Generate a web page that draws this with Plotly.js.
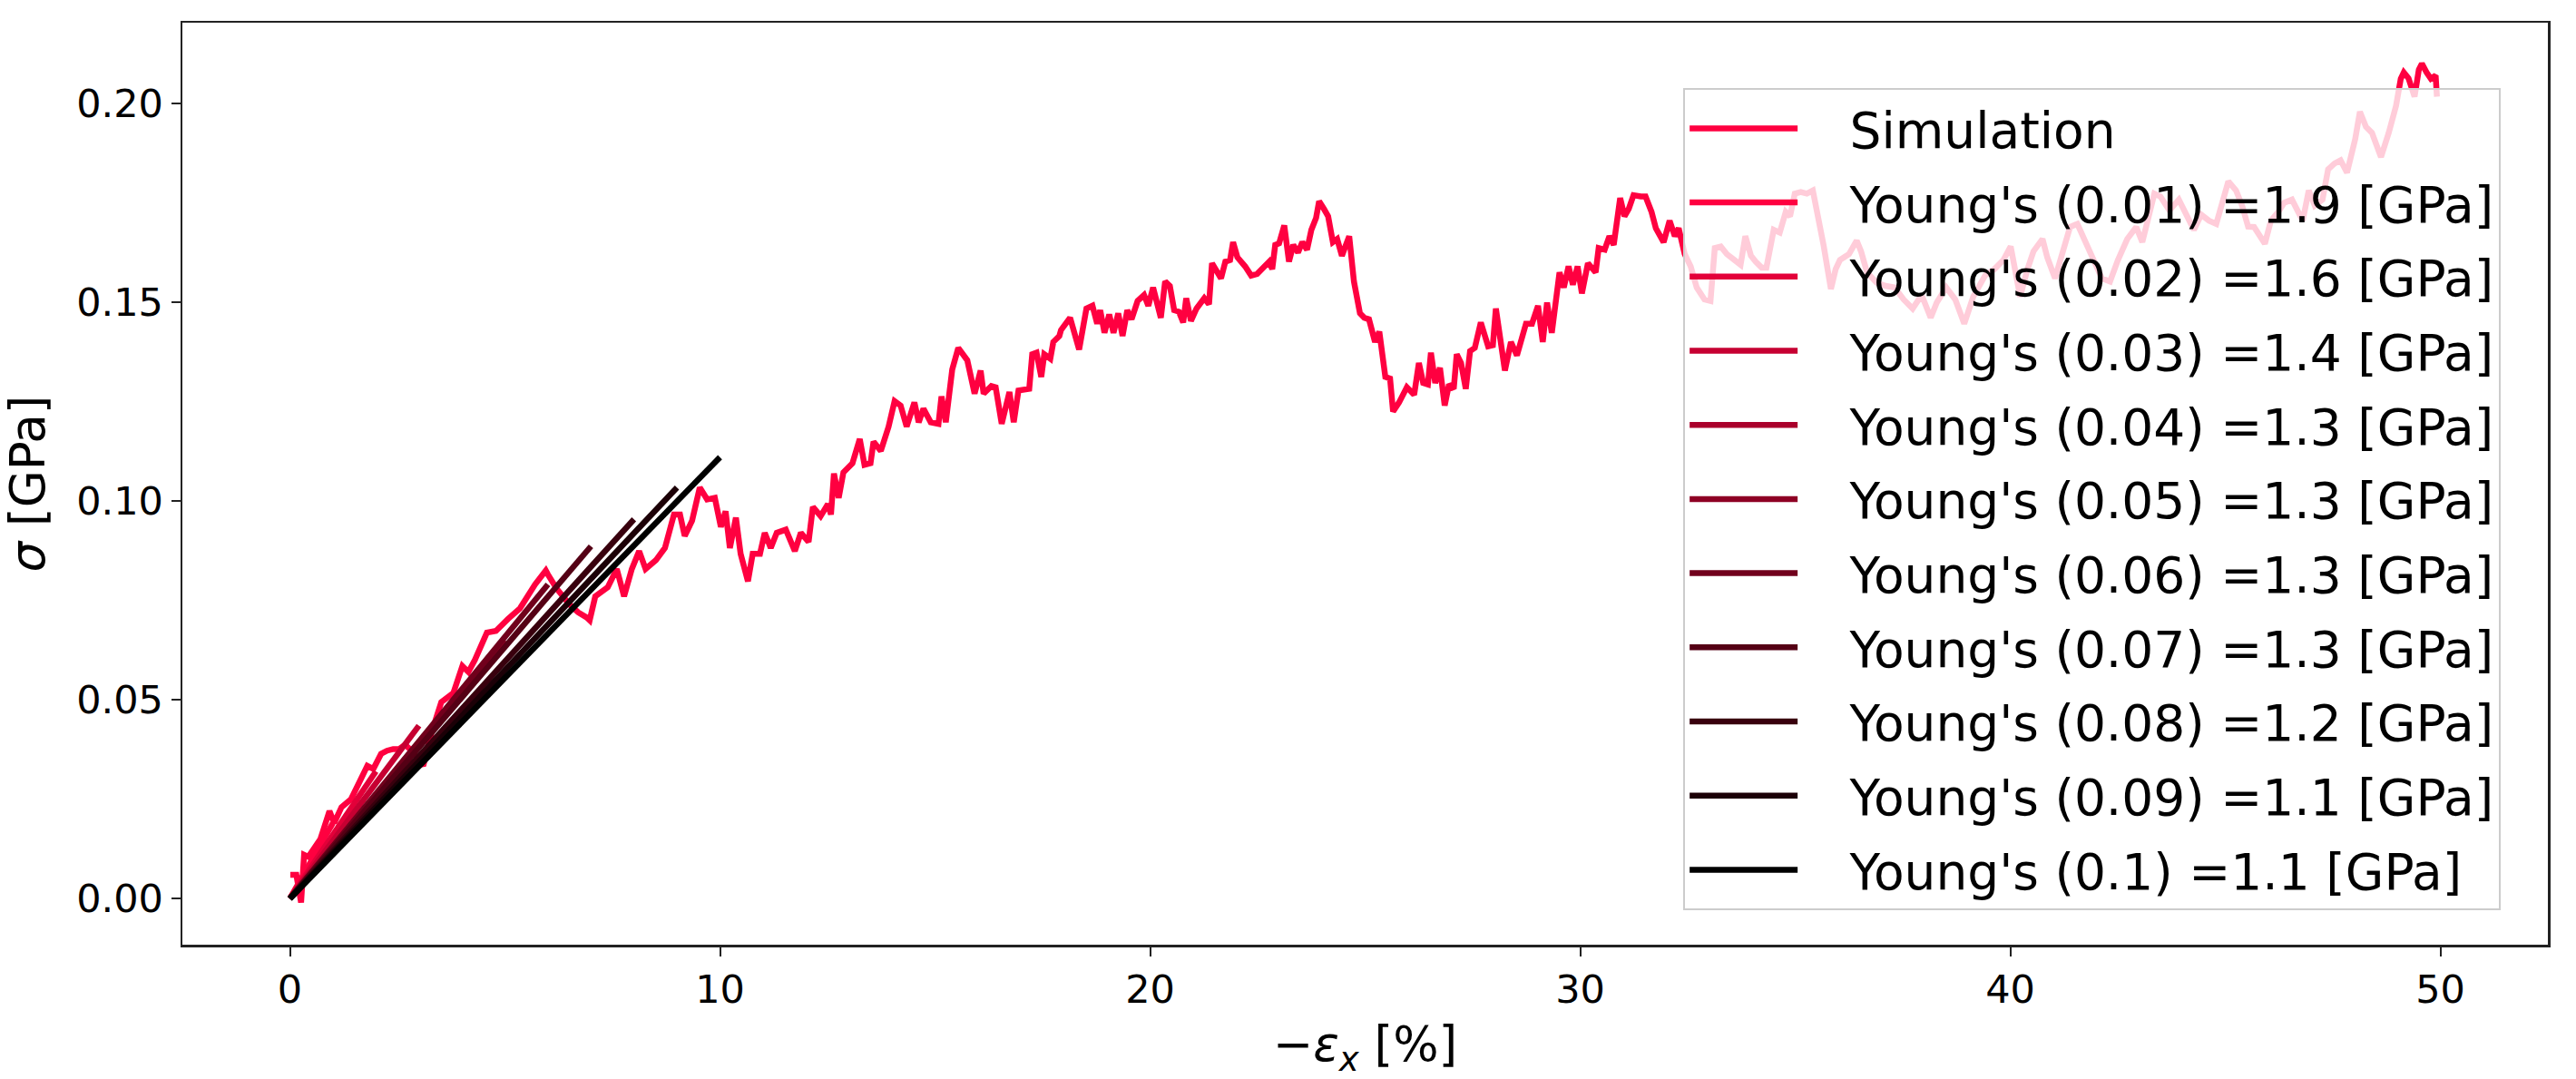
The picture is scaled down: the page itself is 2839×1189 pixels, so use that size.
<!DOCTYPE html>
<html>
<head>
<meta charset="utf-8">
<script src="https://cdn.plot.ly/plotly-3.0.1.min.js"></script>
<style>
  html, body { margin: 0; padding: 0; background: #ffffff; }
  #chart { width: 2839px; height: 1189px; }
</style>
</head>
<body>
<div id="chart"></div>
<script>
// Simulation curve: strain (-eps_x, %) and stress (sigma, GPa)
const simStrain = [
  0.01,0.15,0.26,0.33,0.43,0.71,0.92,1.03,1.20,1.42,1.63,1.80,1.94,2.12,2.26,2.40,2.54,2.68,2.85,3.00,3.10,3.30,3.52,
  3.80,4.01,4.15,4.30,4.58,4.79,5.07,5.35,5.70,5.95,6.00,6.20,6.50,6.70,6.90,6.97,7.10,7.39,7.60,7.77,7.95,8.12,8.27,8.51,8.72,8.93,
  9.07,9.18,9.35,9.53,9.70,9.88,10.02,10.13,10.23,10.37,10.48,10.65,10.76,10.93,11.04,11.18,11.32,11.53,11.74,11.88,12.06,12.16,
  12.34,12.51,12.58,12.65,12.76,12.87,13.08,13.25,13.36,13.50,13.57,13.74,13.92,14.06,14.20,14.34,14.52,14.62,14.73,14.90,15.08,
  15.15,15.25,15.40,15.54,15.75,15.92,16.06,16.13,16.31,16.41,16.55,16.73,16.83,16.94,17.19,17.26,17.36,17.47,17.54,17.68,17.75,
  17.89,17.93,18.14,18.35,18.52,18.66,18.77,18.84,18.94,19.05,19.15,19.26,19.36,19.47,19.57,19.71,19.86,19.96,20.07,20.25,20.35,
  20.46,20.56,20.67,20.77,20.84,20.95,21.08,21.26,21.37,21.44,21.65,21.75,21.86,21.93,22.03,22.21,22.35,22.49,22.70,22.77,22.84,
  22.91,23.00,23.12,23.23,23.33,23.44,23.54,23.65,23.75,23.86,23.93,24.04,24.14,24.25,24.35,24.46,24.56,24.63,24.74,24.88,24.98,
  25.09,25.23,25.33,25.40,25.47,25.58,25.65,25.79,25.97,26.14,26.25,26.35,26.46,26.53,26.63,26.74,26.85,26.95,27.06,27.13,27.23,
  27.34,27.44,27.55,27.69,27.86,27.97,28.04,28.14,28.25,28.39,28.53,28.74,28.88,29.02,29.13,29.23,29.34,29.52,29.62,29.73,29.83,
  29.94,30.04,30.18,30.36,30.43,30.57,30.68,30.78,30.93,31.03,31.13,31.24,31.41,31.52,31.66,31.76,31.94,32.08,32.20,32.29,32.43,
  32.57,32.71,32.89,33.03,33.13,33.27,33.41,33.59,33.73,33.84,33.97,34.08,34.22,34.33,34.50,34.64,34.78,34.88,34.99,35.13,35.27,
  35.41,35.52,35.66,35.83,35.94,36.04,36.25,36.43,36.53,36.67,36.89,37.10,37.31,37.52,37.73,37.94,38.15,38.29,38.51,38.72,38.93,
  39.14,39.42,39.63,39.84,40.01,40.23,40.40,40.54,40.75,40.86,41.04,41.21,41.39,41.56,41.79,42.00,42.13,42.32,42.50,42.72,42.93,
  43.07,43.21,43.35,43.49,43.70,43.92,44.09,44.27,44.44,44.62,44.79,44.97,45.07,45.25,45.39,45.53,45.67,45.92,46.06,46.23,46.37,
  46.55,46.65,46.80,46.94,47.08,47.26,47.39,47.54,47.68,47.83,47.93,48.02,48.13,48.27,48.41,48.62,48.80,48.97,49.08,49.15,49.26,
  49.40,49.50,49.57,49.68,49.78,49.89,49.92
];
const simStress = [
  0.0060,0.0060,-0.0010,0.0110,0.0105,0.0150,0.0220,0.0190,0.0230,0.0250,0.0296,0.0334,0.0326,0.0364,0.0372,0.0376,0.0376,0.0387,0.0370,0.0345,0.0334,0.0420,0.0494,
  0.0517,0.0585,0.0570,0.0600,0.0669,0.0673,0.0703,0.0730,0.0790,0.0825,0.0815,0.0780,0.0740,0.0720,0.0707,0.0700,0.0760,0.0783,0.0829,0.0760,0.0829,0.0874,0.0829,0.0851,0.0882,0.0966,
  0.0966,0.0912,0.0950,0.1034,0.1004,0.1008,0.0935,0.0974,0.0882,0.0958,0.0867,0.0798,0.0867,0.0867,0.0920,0.0882,0.0920,0.0928,0.0874,0.0920,0.0897,0.0985,
  0.0962,0.0992,0.0966,0.1069,0.1008,0.1072,0.1095,0.1156,0.1091,0.1095,0.1149,0.1126,0.1187,0.1251,0.1240,0.1187,0.1248,0.1198,0.1232,0.1198,0.1194,
  0.1263,0.1198,0.1331,0.1385,0.1354,0.1270,0.1328,0.1270,0.1289,0.1286,0.1194,0.1274,0.1198,0.1278,0.1282,0.1369,0.1373,0.1312,0.1369,0.1358,0.1400,
  0.1415,0.1430,0.1461,0.1381,0.1484,0.1491,0.1446,0.1480,0.1423,0.1469,0.1423,0.1472,0.1415,0.1480,0.1457,0.1503,0.1518,0.1491,0.1537,0.1461,0.1552,
  0.1541,0.1480,0.1476,0.1449,0.1510,0.1453,0.1484,0.1510,0.1495,0.1598,0.1560,0.1602,0.1606,0.1651,0.1613,0.1590,0.1567,0.1571,0.1594,0.1602,0.1583,
  0.1644,0.1648,0.1693,0.1602,0.1644,0.1625,0.1651,0.1632,0.1682,0.1712,0.1754,0.1735,0.1716,0.1651,0.1659,0.1617,0.1644,0.1666,0.1552,0.1472,0.1461,
  0.1457,0.1400,0.1426,0.1369,0.1312,0.1308,0.1225,0.1248,0.1286,0.1267,0.1347,0.1297,0.1293,0.1373,0.1297,0.1335,0.1240,0.1293,0.1282,0.1369,0.1347,
  0.1282,0.1377,0.1385,0.1449,0.1389,0.1392,0.1484,0.1408,0.1328,0.1400,0.1366,0.1446,0.1446,0.1491,0.1400,0.1499,0.1423,0.1575,0.1537,0.1590,0.1544,
  0.1590,0.1522,0.1598,0.1575,0.1636,0.1632,0.1666,0.1644,0.1762,0.1716,0.1735,0.1769,0.1766,0.1766,0.1727,0.1686,0.1651,0.1705,0.1666,0.1686,0.1621,
  0.1590,0.1537,0.1507,0.1503,0.1636,0.1640,0.1621,0.1606,0.1594,0.1666,0.1617,0.1602,0.1587,0.1587,0.1682,0.1675,0.1727,0.1716,0.1773,0.1777,0.1773,
  0.1781,0.1727,0.1643,0.1533,0.1583,0.1606,0.1621,0.1655,0.1628,0.1575,0.1549,0.1541,0.1537,0.1507,0.1484,0.1518,0.1461,0.1499,0.1537,0.1507,0.1446,
  0.1514,0.1568,0.1583,0.1606,0.1640,0.1514,0.1583,0.1628,0.1659,0.1613,0.1560,0.1628,0.1689,0.1697,0.1643,0.1598,0.1560,0.1552,0.1605,0.1659,0.1689,
  0.1651,0.1720,0.1773,0.1766,0.1731,0.1758,0.1720,0.1682,0.1720,0.1705,0.1697,0.1766,0.1804,0.1781,0.1743,0.1690,0.1689,0.1647,0.1705,0.1727,0.1750,
  0.1758,0.1735,0.1705,0.1781,0.1743,0.1758,0.1834,0.1849,0.1857,0.1826,0.1872,0.1910,0.1979,0.1941,0.1926,0.1865,0.1926,0.1994,0.2062,0.2078,0.2063,
  0.2017,0.2085,0.2100,0.2078,0.2062,0.2070,0.2017
];

// Young's modulus fits: fit range label, modulus label, end point of each fitted line (start at origin)
const fitRanges = ["0.01","0.02","0.03","0.04","0.05","0.06","0.07","0.08","0.09","0.1"];
const youngModuli = ["1.9","1.6","1.4","1.3","1.3","1.3","1.3","1.2","1.1","1.1"];
const fitEndStrain = [1, 2, 3, 4, 5, 6, 7, 8, 9, 10];
const fitEndStress = [0.0190, 0.0320, 0.0435, 0.0520, 0.0650, 0.0790, 0.0886, 0.0954, 0.1034, 0.1110];
const fitColors = ["#ff0040","#e30039","#c60032","#aa002b","#8e0024","#71001c","#550015","#39000e","#1c0007","#000000"];

const simColor = "#ff0040";
const FONT = "DejaVu Sans, Liberation Sans, sans-serif";
const LEG_PAD = "\u00a0\u00a0\u00a0";   // gap between legend line and label text

const traces = [{
  type: "scatter", mode: "lines",
  x: simStrain, y: simStress,
  name: LEG_PAD + "Simulation",
  legendgroup: "g0",
  line: { color: simColor, width: 6.5 },
  hoverinfo: "skip"
}];
for (let i = 0; i < fitRanges.length; i++) {
  traces.push({
    type: "scatter", mode: "lines",
    x: [0, fitEndStrain[i]], y: [0, fitEndStress[i]],
    name: LEG_PAD + "Young's (" + fitRanges[i] + ") =" + youngModuli[i] + " [GPa]",
    legendgroup: "g" + (i + 1),
    line: { color: fitColors[i], width: 6.5 },
    hoverinfo: "skip"
  });
}

const layout = {
  width: 2839, height: 1189,
  paper_bgcolor: "#ffffff", plot_bgcolor: "#ffffff",
  margin: { l: 201, r: 31, t: 25, b: 148, pad: 0 },
  font: { family: FONT, color: "#000000" },
  showlegend: true,
  legend: {
    x: 0.6345, y: 0.929, xanchor: "left", yanchor: "top",
    bgcolor: "rgba(255,255,255,0.8)",
    bordercolor: "#cccccc", borderwidth: 2,
    font: { family: FONT, size: 55, color: "#000000" },
    traceorder: "grouped",
    tracegroupgap: 7.2,
    itemwidth: 119,
    entrywidthmode: "pixels",
    entrywidth: 900
  },
  xaxis: {
    range: [-2.5, 52.5],
    tick0: 0, dtick: 10,
    ticks: "outside", ticklen: 10, tickwidth: 2, tickcolor: "#222222",
    showline: true, linecolor: "#222222", linewidth: 2.5, mirror: true,
    showgrid: false, zeroline: false,
    tickfont: { family: FONT, size: 43, color: "#000000" },
    title: { text: "\u2212<i>\u03b5</i><sub><i>x</i></sub> [%]", font: { family: FONT, size: 53, color: "#000000" }, standoff: 20 },
    automargin: false
  },
  yaxis: {
    range: [-0.0116, 0.2203],
    tick0: 0, dtick: 0.05, tickformat: ".2f",
    ticks: "outside", ticklen: 10, tickwidth: 2, tickcolor: "#222222",
    showline: true, linecolor: "#222222", linewidth: 2.5, mirror: true,
    showgrid: false, zeroline: false,
    tickfont: { family: FONT, size: 43, color: "#000000" },
    title: { text: "<i>\u03c3</i> [GPa]", font: { family: FONT, size: 53, color: "#000000" }, standoff: 20 },
    automargin: false
  }
};

Plotly.newPlot("chart", traces, layout, { staticPlot: true, displayModeBar: false });
</script>
</body>
</html>
